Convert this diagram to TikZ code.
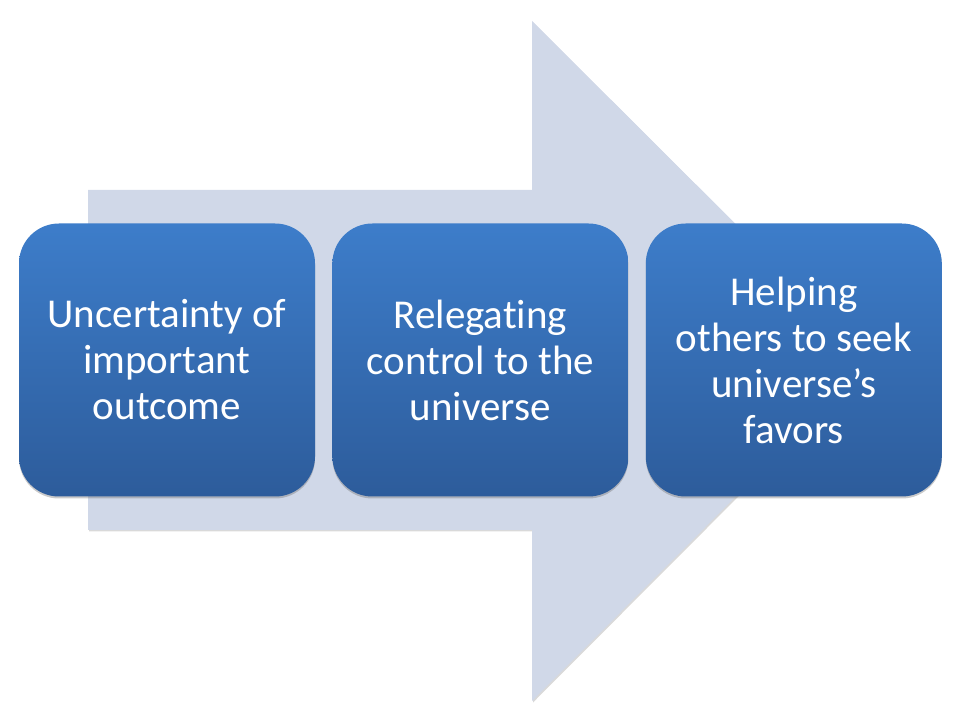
\documentclass[tikz,border=0pt]{standalone}
\usepackage{fontspec}
\setmainfont[Ligatures=NoCommon]{Carlito}
\usetikzlibrary{positioning, shadows}
\definecolor{arrowgray}{HTML}{D0D8E8}
\definecolor{boxtop}{HTML}{3D7DCA}
\definecolor{boxbottom}{HTML}{2D5C9B}

\tikzset{
  stepbox/.style={rectangle, rounded corners=40pt, minimum width=296pt, minimum height=273pt,
    top color=boxtop, bottom color=boxbottom, text=white, align=center,
    font=\fontsize{41}{46}\selectfont,
    drop shadow={shadow xshift=0pt, shadow yshift=-2pt, opacity=0.35, fill=black!60}},
}

\begin{document}
\begin{tikzpicture}[x=1pt, y=1pt, node distance=17pt]
  \useasboundingbox (0,0) rectangle (960,720);

  % big background arrow
  \fill[arrowgray, drop shadow={shadow xshift=1pt, shadow yshift=-1.5pt, opacity=0.3, fill=black!50}]
    (88,190) -- (88,530) -- (532,530) -- (532,699) -- (872,360) -- (532,19) -- (532,190) -- cycle;

  % three steps
  \node (Unc) [stepbox] at (167,360) {Uncertainty of\\important\\outcome};
  \node (Rel) [stepbox, right=of Unc] {Relegating\\control to the\\universe};
  \node (Help) [stepbox, right=of Rel] {Helping\\others to seek\\universe’s\\favors};
\end{tikzpicture}
\end{document}
